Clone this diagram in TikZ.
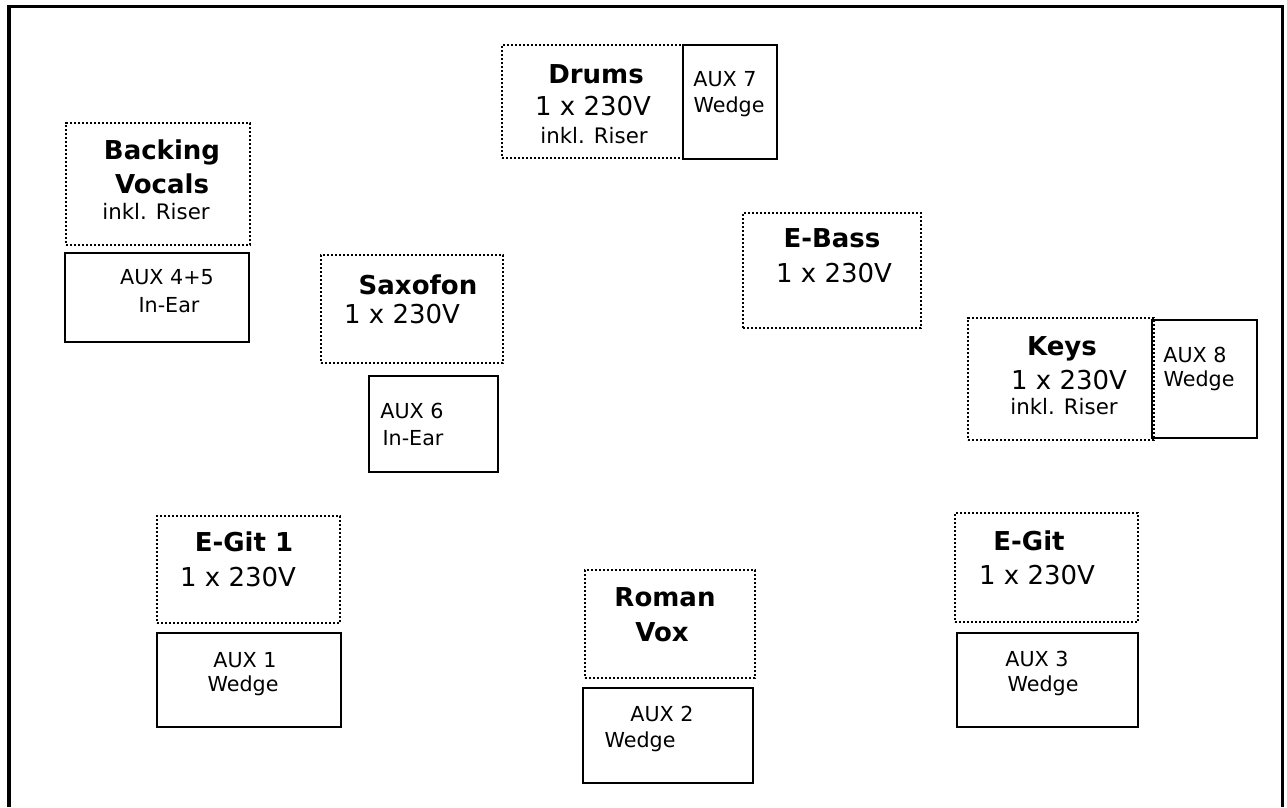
\documentclass[tikz,border=0pt]{standalone}
\usepackage{fontspec}
\setmainfont{DejaVu Sans}
\usetikzlibrary{fit}
\begin{document}
\begin{tikzpicture}[x=0.75pt,y=-0.75pt,
  dotbox/.style={draw, line width=1.6pt, dash pattern=on 1.8pt off 1.2pt, inner sep=0pt},
  auxbox/.style={draw, line width=1.5pt, inner sep=0pt},
  frame/.style={draw, line width=2.3pt},
  head/.style={anchor=base, inner sep=0pt, font=\fontsize{19.5}{23}\selectfont\bfseries},
  volt/.style={anchor=base, inner sep=0pt, font=\fontsize{19.5}{23}\selectfont},
  riser/.style={anchor=base, inner sep=0pt, font=\fontsize{16}{19}\selectfont},
  aux/.style={anchor=base, inner sep=0pt, font=\fontsize{15.5}{18}\selectfont}]
\useasboundingbox (0,0) rectangle (1287,807);
% outer frame
\coordinate (fbl) at (9,807);
\coordinate (ftl) at (9,6.5);
\coordinate (ftr) at (1282.5,6.5);
\coordinate (fbr) at (1282.5,807);
\draw[frame] (fbl) -- (ftl) -- (ftr) -- (fbr);

% Drums
\node[dotbox, fit={(502,45) (683,158)}] (drums) {};
\node[auxbox, fit={(683,45) (777,159)}] (aux7) {};
\node[head] (drumsA) at (596,83) {Drums};
\node[volt] (drumsB) at (593,115) {1 x 230V};
\node[riser] (drumsC) at (594,143) {inkl. Riser};
\node[aux] (aux7A) at (725,86) {AUX 7};
\node[aux] (aux7B) at (729,112) {Wedge};

% Backing Vocals
\node[dotbox, fit={(66,123) (250,245)}] (bv) {};
\node[auxbox, fit={(65,253) (249,342)}] (aux45) {};
\node[head] (bvA) at (162,159) {Backing};
\node[head] (bvB) at (162,193) {Vocals};
\node[riser] (bvC) at (156,219) {inkl. Riser};
\node[aux] (aux45A) at (167,284) {AUX 4+5};
\node[aux] (aux45B) at (169,312) {In-Ear};

% Saxofon
\node[dotbox, fit={(321,255) (503,363)}] (sax) {};
\node[auxbox, fit={(369,376) (498,472)}] (aux6) {};
\node[head] (saxA) at (418,294) {Saxofon};
\node[volt] (saxB) at (402,323) {1 x 230V};
\node[aux] (aux6A) at (412,418) {AUX 6};
\node[aux] (aux6B) at (413,445) {In-Ear};

% E-Bass
\node[dotbox, fit={(743,213) (921,328)}] (bass) {};
\node[head] (bassA) at (832,247) {E-Bass};
\node[volt] (bassB) at (834,282) {1 x 230V};

% Keys
\node[dotbox, fit={(968,318) (1154,440)}] (keys) {};
\node[auxbox, fit={(1152,320) (1257,438)}] (aux8) {};
\node[head] (keysA) at (1062,355) {Keys};
\node[volt] (keysB) at (1069,389) {1 x 230V};
\node[riser] (keysC) at (1064,414) {inkl. Riser};
\node[aux] (aux8A) at (1195,362) {AUX 8};
\node[aux] (aux8B) at (1199,386) {Wedge};

% E-Git 1
\node[dotbox, fit={(157,516) (340,623)}] (git1) {};
\node[auxbox, fit={(157,633) (341,727)}] (aux1) {};
\node[head] (git1A) at (244,551) {E-Git 1};
\node[volt] (git1B) at (238,586) {1 x 230V};
\node[aux] (aux1A) at (245,667) {AUX 1};
\node[aux] (aux1B) at (243,691) {Wedge};

% Roman Vox
\node[dotbox, fit={(585,570) (755,678)}] (vox) {};
\node[auxbox, fit={(583,688) (753,783)}] (aux2) {};
\node[head] (voxA) at (665,606) {Roman};
\node[head] (voxB) at (662,641) {Vox};
\node[aux] (aux2A) at (662,721) {AUX 2};
\node[aux] (aux2B) at (640,747) {Wedge};

% E-Git
\node[dotbox, fit={(955,513) (1138,622)}] (git) {};
\node[auxbox, fit={(957,633) (1138,727)}] (aux3) {};
\node[head] (gitA) at (1029,550) {E-Git};
\node[volt] (gitB) at (1037,584) {1 x 230V};
\node[aux] (aux3A) at (1037,666) {AUX 3};
\node[aux] (aux3B) at (1043,691) {Wedge};
\end{tikzpicture}
\end{document}
